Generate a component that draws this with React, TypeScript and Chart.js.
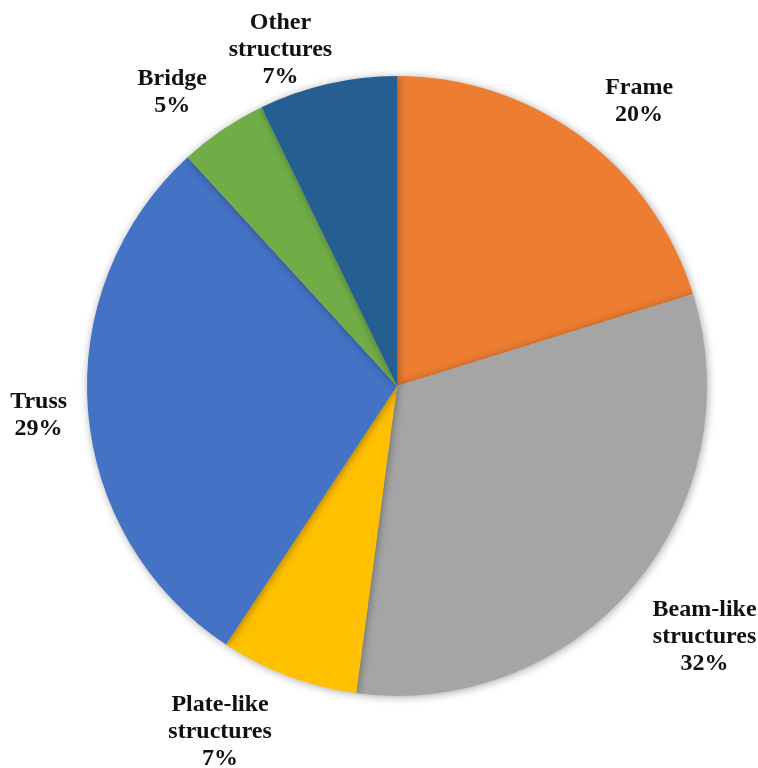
import React, { useEffect, useRef } from "react";
import { Chart, registerables } from "chart.js";

Chart.register(...registerables);

const categories = ["Frame", "Beam-like structures", "Plate-like structures", "Truss", "Bridge", "Other structures"];
const labelLines = [["Frame"], ["Beam-like", "structures"], ["Plate-like", "structures"], ["Truss"], ["Bridge"], ["Other", "structures"]];
const values = [20.2, 31.9, 7.2, 28.9, 4.6, 7.2];
const colors = ["#ED7D31", "#A5A5A5", "#FFC000", "#4472C4", "#70AD47", "#255E91"];

const FONT_SIZE = 24;
const LINE_H = 27;
const FONT = `bold ${FONT_SIZE}px "Liberation Serif", "Times New Roman", serif`;
// small label nudges (px) mimicking the spreadsheet's label layout
const nudges = [[24, 12], [8, -2], [-43, 6], [-3, 1], [-18, 11], [-32, 3]];

const shadowPlugin = {
  id: "pieShadow",
  beforeDatasetsDraw(chart: any) {
    const ctx = chart.ctx;
    ctx.save();
    ctx.shadowColor = "rgba(0,0,0,0.35)";
    ctx.shadowBlur = 8;
    ctx.shadowOffsetX = 1;
    ctx.shadowOffsetY = 1;
  },
  afterDatasetsDraw(chart: any) {
    chart.ctx.restore();
  },
};

const labelPlugin = {
  id: "outLabels",
  afterDraw(chart: any) {
    const ctx = chart.ctx;
    const meta = chart.getDatasetMeta(0);
    const total = values.reduce((a, b) => a + b, 0);
    ctx.save();
    ctx.font = FONT;
    ctx.fillStyle = "#111111";
    ctx.textAlign = "center";
    ctx.textBaseline = "middle";
    meta.data.forEach((arc: any, i: number) => {
      const { x, y, startAngle, endAngle, outerRadius } = arc.getProps(["x", "y", "startAngle", "endAngle", "outerRadius"], true);
      const mid = (startAngle + endAngle) / 2;
      const ux = Math.cos(mid);
      const uy = Math.sin(mid);
      const lines = [...labelLines[i], Math.round((values[i] / total) * 100) + "%"];
      const w = Math.max(...lines.map((l) => ctx.measureText(l).width));
      const h = lines.length * LINE_H;
      const d = outerRadius + 16 + Math.abs(ux) * w / 2 + Math.abs(uy) * h / 2;
      let cx = x + ux * d;
      let cy = y + uy * d;
      if (cy - h / 2 < 6) cy = 6 + h / 2;
      if (cy + h / 2 > chart.height - 2) cy = chart.height - 2 - h / 2;
      if (cx + w / 2 > chart.width - 2) cx = chart.width - 2 - w / 2;
      if (cx - w / 2 < 2) cx = 2 + w / 2;
      cx += nudges[i][0];
      cy += nudges[i][1];
      lines.forEach((l, k) => {
        ctx.fillText(l, cx, cy - h / 2 + LINE_H / 2 + k * LINE_H);
      });
    });
    ctx.restore();
  },
};

export default function App() {
  const ref = useRef<HTMLCanvasElement>(null);
  useEffect(() => {
    const chart = new Chart(ref.current!, {
      type: "pie",
      data: {
        labels: categories,
        datasets: [
          {
            data: values,
            backgroundColor: colors,
            borderWidth: 0,
          },
        ],
      },
      options: {
        animation: false,
        responsive: true,
        maintainAspectRatio: false,
        layout: { padding: { left: 87, right: 51, top: 76, bottom: 72 } },
        plugins: { legend: { display: false }, tooltip: { enabled: false } },
      },
      plugins: [shadowPlugin, labelPlugin],
    });
    return () => chart.destroy();
  }, []);
  return (
    <div style={{ position: "fixed", left: 0, top: 0, width: 758, height: 768, background: "#fff" }}>
      <canvas ref={ref} />
    </div>
  );
}
